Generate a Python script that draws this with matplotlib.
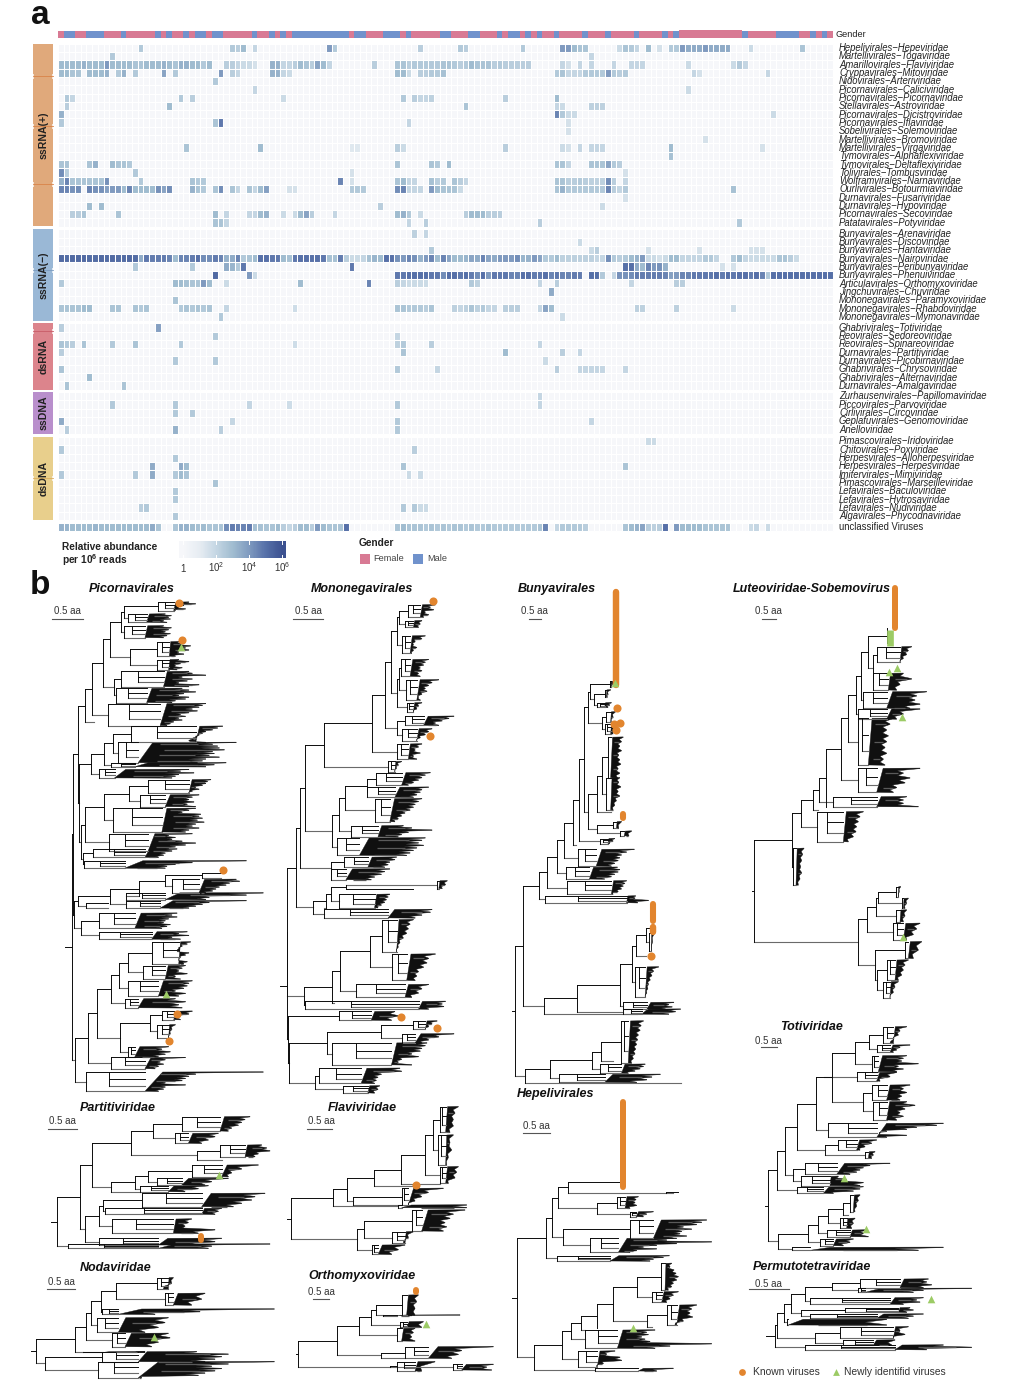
import numpy as np
import matplotlib
matplotlib.use('Agg')
import matplotlib.pyplot as plt
from matplotlib.collections import LineCollection, PolyCollection
from matplotlib.colors import LinearSegmentedColormap, Normalize
from matplotlib.patches import Rectangle

plt.rcParams['font.family'] = ['Liberation Sans', 'DejaVu Sans']
plt.rcParams['mathtext.fontset'] = 'custom'
plt.rcParams['mathtext.rm'] = 'Liberation Sans'
plt.rcParams['mathtext.bf'] = 'Liberation Sans:bold'

N_COLS = 136
gender_runs = [('F',0,1),('M',1,3),('F',3,5),('M',5,8),('F',8,11),('M',11,12),('F',12,17),('M',17,18),('F',18,19),('M',19,20),
 ('F',20,22),('M',22,23),('F',23,24),('M',24,26),('F',26,27),('M',27,29),('F',29,34),('M',34,35),('F',35,37),('M',37,38),
 ('F',38,39),('M',39,40),('F',40,41),('M',41,51),('F',51,52),('M',52,54),('F',54,57),('M',57,60),('F',60,61),('M',61,62),
 ('F',62,67),('M',67,69),('F',69,72),('M',72,74),('F',74,77),('M',77,78),('F',78,79),('M',79,81),('F',81,82),('M',82,83),
 ('F',83,84),('M',84,85),('F',85,87),('M',87,88),('F',88,92),('M',92,93),('F',93,96),('M',96,97),('F',97,101),('M',101,102),
 ('F',102,106),('M',106,107),('F',107,108),('M',108,109),('F',109,120),('M',120,121),('F',121,126),('M',126,130),('F',130,132),
 ('M',132,133),('F',133,134),('M',134,135),('F',135,136)]

ssrna_pos_names = ['Hepelivirales−Hepeviridae','Martellivirales−Togaviridae','Amarillovirales−Flaviviridae','Cryppavirales−Mitoviridae',
 'Nidovirales−Arteriviridae','Picornavirales−Caliciviridae','Picornavirales−Picornaviridae','Stellavirales−Astroviridae',
 'Picornavirales−Dicistroviridae','Picornavirales−Iflaviridae','Sobelivirales−Solemoviridae','Martellivirales−Bromoviridae',
 'Martellivirales−Virgaviridae','Tymovirales−Alphaflexiviridae','Tymovirales−Deltaflexiviridae','Tolivirales−Tombusviridae',
 'Wolframvirales−Narnaviridae','Ourlivirales−Botourmiaviridae','Durnavirales−Fusariviridae','Durnavirales−Hypoviridae',
 'Picornavirales−Secoviridae','Patatavirales−Potyviridae']
ssrna_pos = [
 [(14,[2.5]),(30,[2.5,2.3,3]),(34,[2]),(47,[4,2.5]),(63,[2.3]),(70,[2.5,2.3]),(81,[2.5]),(88,[4,4,3,2.7,2.7]),(98,[1.8,2.7,2.5,2]),(103,[3]),(105,[1.5]),(107,[2.5,2.5,4,3.5,3.5,3.5,4,3.5,3.5,3.5,3.5]),(121,[1.8]),(130,[2.7])],
 [(9,[2.5]),(93,[2])],
 [(0,[3,3,3,3,3.3,3,3,3,4,3,3,3,3,2.7,2.7,3,3,3,3.3,3,2.7,3.3,3.3,3,3,2.5,3]),(29,[2.3,2.3,2,1.8,1.8,1.5]),(37,[3.3,3.3,2,2,2.3,3,2.7,2.3,3.7,3,2]),(55,[2.3]),(59,[2.7,2.7,2.3,2.5,2.5,2.5,2.5,2.5,2.7,2.7,2.5,2.3,2.5,3,2.7,2.7,2.7,2.3,2.5,2.3,2.3,2.3,2.3,2.3]),(88,[2,1.5]),(91,[2]),(93,[2]),(97,[2]),(100,[2,2,2]),(110,[1.8]),(118,[1.8,2.5,2])],
 [(0,[3,3,2.7,2.7]),(5,[3,3,3,3.3]),(10,[2.5,3.3]),(13,[2.5]),(18,[3.7]),(20,[2.5]),(28,[4]),(30,[2.3,2]),(37,[3.3,3.3,2,1.8]),(59,[3,3,1.8]),(63,[2.3,2.3,2.5,2.5,2.8]),(87,[2.5,2.7,2,2,2,2.5,2.5,2.5,2.5,4,2.5,2.3,2.5]),(111,[2,1.5]),(124,[2])],
 [(27,[2.5])],
 [(34,[2]),(110,[1.8])],
 [(1,[2.5,2]),(21,[2.5]),(23,[2.3]),(39,[1.8]),(60,[2.5]),(62,[2.3,2,2,2.2]),(78,[2.3]),(87,[3])],
 [(1,[2.3]),(19,[3]),(71,[2.7]),(87,[2,1.8]),(93,[2.2,2.2,2.2])],
 [(0,[3.3]),(87,[4.5,2.5,1.8,1.8]),(125,[1.8])],
 [(0,[2.5]),(27,[2.7,4.8]),(61,[2]),(89,[1.5])],
 [(89,[1.5])],
 [(113,[1.5])],
 [(22,[2.7]),(35,[3]),(51,[1.2,1.2]),(59,[2.3,1.8]),(78,[2.3]),(88,[1.8,1.5]),(91,[2]),(93,[2,2,2]),(107,[3]),(123,[1.5])],
 [(107,[2.8])],
 [(0,[2.7,2.7]),(5,[2.7,3.3]),(9,[3,2.7,2.7,2.5]),(59,[2.7]),(65,[2.7,2.5]),(68,[3]),(87,[2.7,2.7,2]),(93,[2.7,2.7,2.7,3.7,2.5,2.3])],
 [(0,[4.3,2.3]),(13,[2.5]),(51,[1.5]),(99,[1.5])],
 [(0,[3.3,4.5,2.7,2.7,2.7,2.7,2.7,2.7,4.2]),(14,[2.5]),(23,[2.7,2.5,2.5]),(49,[4.5]),(51,[1.5]),(59,[2.7,3,2,2]),(65,[2.8,2.3,2.5]),(69,[2.7,2.3,2]),(87,[2.7,2.7,2.3,2.3,2.5,2.3,2.2,2.2,2.2,4.3,2.3]),(99,[2])],
 [(0,[4.5,4.5,4.2,4.3]),(5,[4.5,4.2,4.2,3.8,4,4,3,4.5,3,3,3,3,4.2,3.7,4.3]),(23,[3.3,2.7,2.5]),(27,[2.7,4.3]),(30,[2.7,2]),(33,[2.7,2,3,3.8]),(40,[1.5,1.5]),(51,[2.5,2.5,2.5]),(59,[4.3,4.5,2,2,2]),(65,[4,3,2.7,2.7,2.7,1.8]),(87,[2.7,3.3,2.5,2.5,2.5,2.5,2.5,2.5,2.5,4.5,2.3,2,2.5]),(118,[2.8])],
 [(99,[1.5])],
 [(5,[3]),(7,[3]),(56,[2.3]),(95,[1.8])],
 [(2,[2.3,2.3,2.7]),(10,[2.7]),(27,[3]),(29,[2]),(33,[2,2,3,3.3]),(39,[1.8]),(41,[1.8,3,3.7,2.3]),(48,[2]),(59,[3,3.3,2.5]),(63,[1.8]),(71,[2.3,3,3,3,2.3,2.3,2.3])],
 [(27,[2.7,2.7,2]),(61,[2]),(64,[2.3]),(84,[2.3]),(119,[2.5])],
]

ssrna_neg_names = ['Bunyavirales−Arenaviridae','Bunyavirales−Discoviridae','Bunyavirales−Hantaviridae','Bunyavirales−Nairoviridae',
 'Bunyavirales−Peribunyaviridae','Bunyavirales−Phenuiviridae','Articulavirales−Orthomyxoviridae','Jingchuvirales−Chuviridae',
 'Mononegavirales−Paramyxoviridae','Mononegavirales−Rhabdoviridae','Mononegavirales−Mymonaviridae']
ssrna_neg = [
 [(62,[2.2]),(64,[2])],
 [(91,[1.8])],
 [(65,[2.5]),(93,[1.8,2.3]),(103,[1.5]),(112,[1.5]),(121,[1.5,1.5,1.5])],
 [(0,[5.2,5.1,5.2,5.2,5.2,5.1,5.1,5.2,5.1,5.2,5.1,5.1,5.2,5.1,3.5,4.8,4.7,4.7,4.7,4.5,3,4.5,4.5,4.7,5,4.3,4.3,4.7,4.5,3.3,3.5,4.5,2.5,2.7,3,5,5,4.8,4.8,3,2.8,4.8,5,5,5,5,4.8,2.8,2.8,4.7,2.3,1.8,1.8,2,2.8,3.2,3,5,5,4.2,4,4.5,4.2,3.3,4,4.5,3,4.5,3.7,3,3,3.2,3.7,3.5,4.5,3.7,3.5,4,4,4,4.3,3.2,3.3,4,3.7,2.5,2.5,3,2.2,2.2,2.2,2.2,2.2,2.2,2,2,4.3,2.5,2.3,2.5,3,3.3,4,1.8,1.8,1.5,1.8,3,3,2,2,2,2,2.5,2.5,2]),(118,[2.5,3,2,1.8,1.8,1.8,1.8,1.8,2.7,2.7,2.3,1.8])],
 [(13,[2.5]),(23,[2.5]),(29,[3.5,3.2,2.5,4.8]),(51,[4.8]),(99,[5,5,3.5,3,4.5,4,4.2,3.3]),(116,[1.5]),(118,[1.5])],
 [(27,[5.2]),(33,[4,1.8]),(59,[4.8,4.8,5,5,5,5,4.8,4.8,4.3,5,5,4.8,5,4.7,4.3,5,4,4.8,4.8,4.8,4.5,4.5,5,5,4.7,4.8,5,4.5,4.8,4.5,4.5,4.7,4.7]),(93,[5,5,2.5]),(97,[2,4.2,4.2,4.3,4.7,4.7,4.7,4.7,4.7,4.5,3.8,4,4.5,4.5,4.8,4.8,4.8,4.8,5,4.7,5,4.8,5,5,4.7,5,4.5,2.5,5,5,5,5,5,5,5,5,5,5,5])],
 [(0,[2.5]),(20,[3,3,2.8,2.7,2.7,4,3]),(29,[1.8]),(42,[3]),(54,[4.5]),(59,[2.3,2,1.8,1.8,1.8,1.8]),(72,[2.5,2.2]),(84,[2]),(87,[2.3]),(100,[2]),(108,[2.3,2.3])],
 [(86,[3.5])],
 [(20,[2.7])],
 [(0,[2.7,2.7,2.7,2.7,3,3]),(9,[2.7,2.7]),(13,[2.7,2.5,2.7]),(21,[2.5,2.7,2.5,2.7,2.5,2.7]),(29,[2]),(41,[1.7]),(59,[2.7,2.7,2.5,2.5,2.5,2.3,2.7]),(69,[2.2,2,2.2,2.7,2.2,2.5,2,2]),(78,[2.3,2.3,2.3]),(84,[2,3.7,3]),(101,[2.2,2.2]),(108,[2.2]),(118,[1.8])],
 [(28,[2.5]),(88,[1.8])],
]

dsrna_names = ['Ghabrivirales−Totiviridae','Reovirales−Sedoreoviridae','Reovirales−Spinareoviridae','Durnavirales−Partitiviridae',
 'Durnavirales−Picobirnaviridae','Ghabrivirales−Chrysoviridae','Ghabrivirales−Alternaviridae','Durnavirales−Amalgaviridae']
dsrna = [
 [(0,[2.3]),(17,[3.8])],
 [(27,[2.5]),(59,[2])],
 [(0,[2.7,2.5,2.3]),(4,[2.7]),(9,[2.5]),(13,[2.7]),(21,[2.5]),(41,[1.7]),(59,[2.2,2.5]),(65,[2.3]),(84,[2])],
 [(0,[2.3]),(60,[2.7]),(78,[3]),(88,[2.3]),(91,[2])],
 [(20,[2.5]),(27,[2.5]),(85,[1.8])],
 [(0,[2.7]),(59,[2.5]),(66,[2]),(87,[2.3]),(91,[2,2,2,2,2]),(99,[2])],
 [(5,[3])],
 [(1,[2.7]),(11,[2.7])],
]

ssdna_names = ['Zurhausenvirales−Papillomaviridae','Piccovirales−Parvoviridae','Cirlivirales−Circoviridae','Geplafuvirales−Genomoviridae','Anelloviridae']
ssdna = [
 [(84,[2])],
 [(9,[2.5]),(20,[2.5]),(33,[2]),(40,[1.7]),(59,[2.5]),(84,[2])],
 [(20,[2.5]),(23,[2.5])],
 [(0,[3.5]),(30,[2]),(59,[2.5]),(93,[2])],
 [(1,[2.3]),(20,[3.3]),(28,[2.3]),(59,[2.5])],
]

dsdna_names = ['Pimascovirales−Iridoviridae','Chitovirales−Poxviridae','Herpesvirales−Alloherpesviridae','Herpesvirales−Herpesviridae',
 'Imitervirales−Mimiviridae','Pimascovirales−Marseilleviridae','Lefavirales−Baculoviridae','Lefavirales−Hytrosaviridae',
 'Lefavirales−Nudiviridae','Algavirales−Phycodnaviridae']
dsdna = [
 [(103,[1.8,1.8])],
 [(0,[2.5]),(62,[2.3])],
 [(20,[2.5])],
 [(16,[3.5]),(21,[3.5,3]),(60,[2.7]),(99,[2.7])],
 [(0,[2.5]),(13,[2.5]),(16,[3.5]),(20,[2.5,3,2.7]),(61,[1.8]),(63,[1.8])],
 [(27,[2.7])],
 [(20,[2.5])],
 [(20,[2.5])],
 [(14,[2.3,2.5]),(60,[2.5]),(62,[2.5,1.8,1.8])],
 [(20,[2.5])],
]

unclassified_names = ['unclassified Viruses']
unclassified = [
 [(0,[3.3,3.2,3,3,3,3,3.2,3,3,3,3,3,3,3,3,3,3.5,2.7]),(20,[2.7,3.3,3.3,3,2.8,3,2.7,2.7,2.7,4.3,4.7,4.5,4.5,4.7,2.8,2.8,2.7,2.7,3,2.3,2,2.3,3,3,2.3,4,3,2.7,2.7,2.7,5]),(59,[2.7,3,2.7,2.7,2.7,2.5,2.7,2.5,2.7,2.5,2.7,2.7,2.5,2.7,2.5,2.5,2.7,2.5,2.5,2.5,2.5,2.5,2.5,2.5,2.5,2.7]),(85,[4.5]),(87,[2,2.5,2.5,2.5,2.5,2.3]),(99,[2.7,3,3.3,3.7,2.3,2.2,2.3,5]),(108,[4,3,3,3,3,2.7,2.7,2.7,2.7,2.7]),(121,[1.8,2]),(124,[1.8])],
]

cmap_stops = ['#f6f7fa', '#e6ecf2', '#c4d6e3', '#a0bcd0', '#7f9abf', '#5670a8', '#3c5190']
cmap = LinearSegmentedColormap.from_list('abund', cmap_stops)
norm = Normalize(0, 6)

groups = [
 ('ssRNA(+)', '#e0a97b', 44, 226, 43.6, ssrna_pos, ssrna_pos_names, [76,126,184], '#d98348'),
 ('ssRNA(−)', '#9ab8d6', 229, 321, 229.2, ssrna_neg, ssrna_neg_names, [270], '#7c9cc0'),
 ('dsRNA', '#dc848c', 323, 390, 323.2, dsrna, dsrna_names, [331], '#c85c68'),
 ('ssDNA', '#b98fcc', 392, 434, 391.9, ssdna, ssdna_names, [], ''),
 ('dsDNA', '#e8cf8c', 437, 520, 436.9, dsdna, dsdna_names, [478], '#dcae5e'),
 ('', None, 0, 0, 522.9, unclassified, unclassified_names, [], ''),
]

def N(x, *kids): return ('n', x, kids)
def T(x, y): return ('t', x, y)
def C(x, xb, y0, y1, tips): return ('c', x, xb, y0, y1, tips)

picorna = N(125,
 N(126,
  N(141,
   N(163,
    N(183,
     N(215,
      N(238,
       N(270, N(278, C(380,425,95,120,[470,490,455,440,460,430]), C(290,345,130,155,[400,418,410,415,395,405])), C(278,340,165,200,[395,418,410,400,415,405,395])),
       N(295, C(375,412,212,255,[440,450,475,460,470,440,455,430]), C(375,410,265,295,[440,470,445,430,450,435]))),
      N(248, C(270,395,300,345,[470,480,520,450,480,465,440,500,470]), C(255,345,350,392,[450,470,490,455,440,470,460,430,420]))),
     C(232,385,395,460,[520,510,500,480,495,470,445,460,440,450,425,415,405])),
    T(190,450)),
   N(146,
    N(180,
     N(218,
      N(245, C(300,490,462,510,[570,555,540,520,510,500,490,480,470,520]), C(260,320,510,570,[610,540,555,560,575,540,545,530,560,520,510,495])),
      C(240,310,570,582,[580,545,520])),
     C(205,250,590,615,[470,445,485,440,430,420])),
    N(150,
     N(162,
      N(218,
       N(292, C(350,470,620,660,[535,525,520,510,490,500,480,470]), C(325,400,665,700,[500,480,470,485,465,490])),
       C(245,390,705,775,[490,470,450,505,500,510,495,515,490,480,500,470,460])),
      C(235,350,780,830,[480,410,430,420,450,490,460,430,410,395])),
     N(158, C(185,340,825,850,[435,420,400,395,380]), C(160,280,860,882,[640,480,430,405,400]))))),
  N(130,
   N(142,
    N(238, N(322, N(400, N(510, T(571,895), T(565,912)), C(420,500,915,955,[610,620,590,580,560,550,540,520])), C(285,400,955,975,[690,640,530,520])), C(285,385,978,1000,[640,530,510,490,470])),
    N(165, T(230,985), T(230,1000))),
   N(150,
    C(205,310,1015,1060,[435,420,435,410,400,395,415,405,390]),
    C(205,360,1070,1092,[465,440,470,420,445])))),
 N(133,
  N(172,
   N(198,
    N(240,
     N(262,
      N(290, C(362,440,1100,1165,[475,465,450,440,435,470,460,445,440,465,455]), C(335,400,1170,1210,[460,450,440,465,430,445])),
      C(290,380,1215,1260,[480,470,465,455,430,460,440])),
     C(280,320,1268,1295,[430,460,440,450])),
    N(265,
     N(355, C(390,425,1305,1330,[480,470,440,445]), C(375,410,1345,1385,[430,420,415,410])),
     C(290,310,1410,1440,[410,390,415,400,380]))),
   C(240,340,1442,1475,[460,400,385,395,380,370])),
  C(165,340,1485,1542,[690,490,470,460,450,400,460,400,395,380])))

mononega = N(20,
 N(22,
  N(47,
   N(58,
    N(73,
     N(130,
      N(272,
       N(312,
        N(330,
         N(345,
          N(352, C(378,415,88,125,[460,445,455,430,440,425]), C(370,395,135,155,[420,415,410])),
          C(360,385,180,232,[430,420,400,395,405,395,390])),
         N(345,
          N(352, C(358,385,250,300,[440,430,425,415,420,410,415]), C(372,405,310,370,[470,450,440,430,435,420,410,415])),
          C(375,395,378,405,[420,410,405,395]))),
        N(345, C(370,425,418,445,[515,500,480,460,470]), C(360,405,455,490,[450,440,430,415,405]))),
       C(345,380,500,545,[420,410,400,415,395,405])),
      C(320,340,552,582,[360,350,345,340])),
     N(155,
      N(175,
       N(192,
        N(258, C(285,360,585,622,[445,430,420,410,395,380]), C(258,340,628,658,[440,420,415,405,395])),
        C(280,325,662,730,[420,410,400,395,385,370,360,350,340])),
       C(210,290,742,775,[365,390,450,380,360,350])),
      C(170,235,778,830,[430,420,410,425,405,395,385,375]))),
    N(150, C(190,260,835,865,[345,340,325,320,310]), C(150,195,870,902,[325,310,300,280,270]))),
   N(97,
    N(135,
     N(150, N(195,T(395,930),C(465,470,905,928,[495,490,480])), C(175,280,945,985,[325,320,315,310,300,290])),
     T(130,985)),
    C(130,320,990,1015,[450,445,420,400]))),
  N(72,
   N(155,
    N(177,
     N(265, C(302,345,1020,1115,[395,385,380,375,365,355,350,345]), C(332,375,1122,1200,[460,440,435,425,410,405,400])),
     C(225,370,1212,1250,[440,420,410,390])),
    T(160,1268)),
   C(75,410,1262,1285,[490,480,485,440])),
  ),
 N(25,
  C(175,270,1292,1318,[340,350,330]),
  N(28,
   N(140,
    N(300, C(395,430,1320,1345,[465,450,440,430]), C(360,400,1358,1385,[515,470,440,420])),
    C(155,330,1385,1450,[435,430,420,415,390,410,360,350,390])),
   N(105, C(115,240,1460,1505,[355,360,300,290,285,280]), C(185,260,1512,1533,[295,290,280])))))

bunya = N(15,
 N(37,
  N(85,
   N(110,
    N(140,
     N(160,
      N(185,
       N(205,
        N(218,
         N(230,
          N(236, C(295,298,315,332,[310,305,300]), N(250,C(280,285,340,362,[298,290,288]),C(258,280,378,392,[300,295,290]))),
          N(272, C(285,298,405,435,[312,305,300]), C(282,298,440,470,[315,310,305]))),
         N(230,
          N(258,
           N(272, C(290,298,480,600,[335,330,325,330,322,325,328,320,325,318]), C(285,298,600,695,[325,322,328,320,325,315,310,305])),
           T(298,702)),
          N(258, C(305,315,730,750,[330,322]), C(325,338,758,772,[360,352])))),
        C(265,290,780,795,[310,305,295])),
       T(195,800)),
      C(200,255,812,862,[368,345,330,325,320,310,300])),
     C(165,235,865,900,[318,325,320,310,300,280])),
    C(170,300,905,945,[345,340,335,330,320,305])),
   C(105,345,950,970,[372,370,410,378])),
  N(100,
   N(197,
    N(325,
     N(362,
      N(372,
       N(402, T(410,1045), C(410,418,1060,1112,[428,422,418])),
       T(402,1128)),
      C(370,400,1160,1250,[440,425,420,415,410,408,405,400])),
     C(335,405,1265,1285,[485,470,480,460])),
    C(335,390,1285,1300,[505,490,470])),
   T(375,1298))),
 N(45,
  N(118,
   N(243,
    N(268, C(330,350,1320,1445,[395,388,385,380,378,375,372,370,365,360]), T(305,1440)),
    C(265,330,1448,1475,[400,395,385,370,350])),
   C(145,280,1478,1502,[445,420,405,375])),
  T(505,1505)))

hepeli = N(22,
 N(108,
  N(125,
   N(145,
    N(173, T(335,502), N(467,T(505,530),T(490,535))),
    N(262, C(320,345,545,580,[385,378,375,380,360]), C(360,378,590,605,[430,410,400]))),
   N(160, C(360,430,615,670,[590,575,560,520,545,515,510,530,490]), C(240,325,670,712,[500,470,605,500,440,400,440,380,360]))),
  C(140,300,722,738,[478,460,430,420])),
 N(73,
  N(155,
   N(182,
    N(212,
     N(260,
      N(310,
       N(382, C(452,465,745,825,[485,480,492,498,505,500,490,485,475]), C(425,455,830,862,[505,490,480,470])),
       N(410, C(472,500,870,930,[560,545,540,548,520,495]), T(425,936))),
      T(260,940)),
     T(225,945)),
    C(225,322,945,1000,[435,410,415,395,405,420,605,480,435])),
   C(205,262,1008,1055,[315,290,330,335,280,260])),
  C(255,385,1060,1068,[490,440])))

toti = N(775,
 N(800,
  N(825,
   N(860,
    N(917,
     N(942,
      N(967,
       N(1035,
        N(1078, C(1120,1150,35,85,[1190,1170,1165,1150,1140]), C(1100,1140,90,112,[1200,1170,1160,1150])),
        C(1085,1105,122,170,[1190,1180,1175,1225,1165,1180,1160])),
       N(1060, C(1085,1130,210,255,[1200,1180,1190,1175,1170]), C(1090,1130,260,315,[1190,1215,1185,1170,1180,1160]))),
      C(1040,1100,172,198,[1160,1140,1110])),
     C(955,1100,325,367,[1300,1280,1220,1190,1130,1110,1190,1130])),
    N(945, C(985,1040,375,405,[1100,1085,1065,1050]), C(1065,1075,410,430,[1095,1090,1085]))),
   N(848, C(885,980,445,478,[1140,1080,1060,1050,1040,1020]), C(872,960,484,512,[985,1010,1060,1050]))),
  C(860,940,515,535,[1060,1050,1030,970])),
 N(805,
  N(895,
   N(925,
    N(955,
     N(1000, C(1020,1030,540,590,[1050,1045,1040,1035]), T(1015,600)),
     C(990,1010,610,640,[1035,1030,1025])),
    C(950,1020,645,665,[1070,1060,1075])),
   C(930,970,672,692,[1030,1020,1000])),
  C(845,900,697,706,[1300,1225])))

permuto = N(795,
 N(800,
  N(822,
   N(842,
    N(885,
     N(965, C(1050,1170,792,818,[1255,1250,1265,1240]), C(1045,1065,820,832,[1385,1240,1210])),
     C(900,1140,848,868,[1240,1220,1230,1180])),
    N(872, C(1005,1165,878,892,[1200,1210,1190]), C(900,1100,897,910,[1240,1210,1195]))),
   C(832,835,913,930,[1130,1130])),
  N(915, C(990,1150,935,970,[1195,1170,1185,1150]), C(1000,1090,975,990,[1155,1145]))),
 C(885,1155,990,1004,[1300,1385,1250]))

partiti = N(95,
 N(165,
  N(200,
   N(318,
    N(383, C(470,585,65,108,[675,660,650,640,620,610]), C(450,490,115,145,[580,570,550,530])),
    N(515, C(585,660,150,185,[710,725,735,700,690]), T(590,195))),
   N(258, N(330, N(370, C(500,590,210,245,[700,650,620,610]), C(395,470,250,270,[610,560,540])), C(345,430,272,290,[550,520,480])), T(345,292))),
  N(180,
   N(222,
    N(235, C(350,530,295,335,[720,690,680,650,625]), C(240,530,340,358,[590,580,570])),
    C(260,445,372,415,[500,490,480,570,520])),
   C(222,400,430,450,[590,570,520]))),
 C(130,400,447,460,[735,560,550]))

flavi = N(798,
 N(925,
  N(965,
   N(1048,
    N(1127,
     N(1200,
      N(1225, C(1245,1262,35,112,[1300,1290,1285,1285,1275]), C(1240,1262,120,210,[1285,1275,1280,1270,1265])),
      C(1245,1262,215,265,[1300,1295,1290,1270])),
     T(1245,268)),
    T(1170,272)),
   N(985, C(1130,1150,280,330,[1255,1210,1190,1170,1150]), T(1130,330))),
  C(1120,1130,330,338,[1325,1325])),
 N(995,
  N(1018, C(1160,1190,345,408,[1320,1285,1275,1260,1265,1255]), C(1100,1140,410,445,[1165,1150,1135])),
  C(1040,1060,450,478,[1140,1120,1100])))

noda = N(32,
 N(150,
  N(182,
   N(197,
    N(228,
     N(272, C(395,430,548,582,[445,440,415]), C(420,445,595,630,[540,530,500])),
     C(232,280,642,658,[748,525,390])),
    C(215,280,668,712,[430,420,400,360])),
   C(260,300,715,755,[430,435,400,380])),
  C(175,235,770,772,[360,360])),
 N(60,
  C(230,340,770,800,[515,610,590,570,540]),
  C(220,340,800,848,[748,610,560,590,570,540,520,350])))

orthomyxo = N(820,
 N(937,
  N(1003,
   N(1038,
    N(1052, C(1130,1145,600,660,[1180,1175,1170,1170]), C(1075,1115,660,662,[1305,1160])),
    C(1125,1145,680,697,[1195,1190])),
   C(1115,1130,700,738,[1170,1165,1160,1170])),
  N(1067, C(1140,1210,755,790,[1405,1310,1300,1280]), T(1140,790))),
 N(1095, C(1115,1170,800,828,[1230,1190]), C(1285,1310,808,825,[1405,1385,1400])))

luteo = N(73,
 N(186,
  N(212,
   N(250,
    N(268,
     N(288,
      N(332,
       N(355,
        N(378,
         N(392,
          N(415,
           N(470, T(472,158), T(472,205)),
           N(430, C(440,510,215,262,[545,535,530,520,510]), C(428,475,295,345,[520,545,510,500]))),
          C(400,470,350,400,[590,560,555,570,540])),
         C(385,470,402,432,[570,520,500])),
        C(385,415,430,570,[490,480,470,475,470,465,470,460,465])),
       C(385,440,580,652,[570,520,540,525,500,490])),
      T(288,695)),
     C(310,440,665,695,[530,520,520,565])),
    T(265,705)),
   C(260,340,710,800,[400,390,385,380,378,370,355])),
  C(190,198,820,930,[222,218,215,212,215,210,205])),
 N(385,
  N(412,
   N(438,
    N(445, C(497,505,935,965,[512,508,505]), C(515,520,970,1000,[535,530,525])),
    C(497,510,1005,1040,[530,525,520])),
   C(490,520,1045,1095,[570,560,550,530])),
  N(435,
   C(525,535,1100,1150,[575,565,550]),
   N(440, C(470,495,1155,1215,[535,525,520,515,505]), C(460,480,1220,1268,[505,495,490,480])))))

# tree, crop left, crop top, crop scale, stem start, circles, triangles, thick bars (x, y0, y1, width in crop units)
trees = [
 (picorna, 30, 570, 2.958, 105, [(441,98),(451,208),(571,887),(434,1312),(411,1392)], [(446,228),(401,1255)], []),
 (mononega, 280, 575, 2.96, 0, [(452,78),(443,477),(358,1308),(466,1341)], [], []),
 (bunya, 510, 575, 2.96, 5, [(317,394),(308,441),(325,438),(315,460),(417,1128)], [(310,320)], [(313,50,325,19),(334,708,720,18),(422,975,1025,18),(423,1042,1058,19)]),
 (hepeli, 510, 1015, 3, 5, [], [(368,938)], [(338,260,515,18)]),
 (toti, 510, 1015, 3, 765, [], [(1001,488),(1068,642)], []),
 (permuto, 510, 1015, 3, 768, [], [(1262,853)], []),
 (partiti, 25, 1095, 3, 78, [], [(581,240)], [(527,422,434,18)]),
 (flavi, 25, 1095, 3, 785, [(1174,269)], [], []),
 (noda, 25, 1095, 3, 18, [], [(388,727)], []),
 (orthomyxo, 25, 1095, 3, 812, [], [(1204,688)], [(1174,584,590,18)]),
 (luteo, 730, 575, 3, 65, [], [(501,278),(476,292),(517,425),(518,1085)], [(494,38,160,18)]),
]
green_bars = [(730, 575, 3, 481, 165, 212, 20)]

tree_titles = [('Picornavirales',132,589),('Mononegavirales',362,589),('Bunyavirales',557,589),('Luteoviridae-Sobemovirus',812,589),
 ('Totiviridae',812,1027),('Hepelivirales',556,1094),('Partitiviridae',118,1108),('Flaviviridae',362,1108),('Nodaviridae',116,1268),
 ('Orthomyxoviridae',362,1276),('Permutotetraviridae',812,1267)]
scale_bars = [(67,611,52,83,619),(308,611,293,323,619),(534,611,529,541,619),(768,611,762,776,619),(768,1041,761,777,1047),
 (536,1126,523,550,1133),(62,1121,48,77,1129),(321,1121,307,332,1129),(61,1282,47,75,1289),(321,1292,313,329,1299),(768,1284,749,789,1289)]

colorbar_ticks = [(0, '1'), (2, r'$\mathregular{10^{2}}$'), (4, r'$\mathregular{10^{4}}$'), (6, r'$\mathregular{10^{6}}$')]

# ---------- figure ----------
DPI = 100
fig = plt.figure(figsize=(10.24, 13.83), dpi=DPI, facecolor='white')
ax = fig.add_axes([0, 0, 1, 1])
ax.set_xlim(0, 1024); ax.set_ylim(1383, 0); ax.axis('off')
PX = 72 / DPI

X0, PITCHX, PITCHY = 58.0, 775.0 / N_COLS, 8.32
col_edges = X0 + PITCHX * np.arange(N_COLS + 1)

GENDER = {'F': '#d87a94', 'M': '#7092cc'}
for g, a, b in gender_runs:
    top = 30 if (a, b) == (109, 120) else 31
    ax.add_patch(Rectangle((col_edges[a], top), col_edges[b] - col_edges[a], 38 - top, fc=GENDER[g], ec='none'))
ax.text(835, 37, 'Gender', fontsize=6.6, va='baseline', color='#222')

for label, color, sy0, sy1, top, rows, names, notches, ncolor in groups:
    M = np.zeros((len(rows), N_COLS))
    for r, row in enumerate(rows):
        for start, vals in row:
            M[r, start:start + len(vals)] = vals
    y_edges = top + PITCHY * np.arange(len(rows) + 1)
    ax.pcolormesh(col_edges, y_edges, M, cmap=cmap, norm=norm, edgecolors='white', linewidth=0.75, antialiased=True)
    for r, nm in enumerate(names):
        ax.text(839, top + PITCHY * (r + 0.5) + 3.3, nm, fontsize=6.85, va='baseline', ha='left', color='#222',
                style='normal' if nm.startswith('unclassified') else 'italic')
    if color:
        ax.add_patch(Rectangle((33, sy0), 20, sy1 - sy0, fc=color, ec='none'))
        ax.text(43.5, (sy0 + sy1) / 2, label, rotation=90, fontsize=7.6, fontweight='bold', ha='center', va='center', color='#222')
        for ny in notches:
            ax.plot([33, 53], [ny, ny], color=ncolor, lw=0.6)
            ax.add_patch(Rectangle((33, ny - 2.5), 1, 5, fc='white', ec='none', alpha=0.7))
            ax.add_patch(Rectangle((52, ny - 2.5), 1, 5, fc='white', ec='none', alpha=0.7))

ax.text(31, 16, 'a', fontsize=24, fontweight='bold', va='center', ha='left', color='#111')
ax.text(30, 585, 'b', fontsize=24, fontweight='bold', va='center', ha='left', color='#111')

# colour key
key_vals = np.linspace(-0.25, 6.2, 200)[None, :]
key_edges = np.linspace(179, 286, 201)
ax.pcolormesh(key_edges, [540.7, 557.7], key_vals, cmap=cmap, norm=norm)
for v, lab in colorbar_ticks:
    xk = 183 + v * 16.5
    ax.plot([xk, xk], [540.7, 544], color='white', lw=0.7)
    ax.plot([xk, xk], [554.5, 557.7], color='white', lw=0.7)
    ax.text(xk, 571.5, lab, fontsize=7, ha='center', va='baseline', color='#333')
ax.text(62, 547, 'Relative abundance', fontsize=7.3, fontweight='bold', va='center', color='#222')
ax.text(62, 560, r'per 10$^{\mathbf{6}}$ reads', fontsize=7.3, fontweight='bold', va='center', color='#222')
ax.text(359, 543.5, 'Gender', fontsize=7.3, fontweight='bold', va='center', color='#222')
ax.add_patch(Rectangle((359.5, 554), 10, 10, fc=GENDER['F'], ec='none'))
ax.text(373, 558.5, 'Female', fontsize=6.6, va='center', color='#444')
ax.add_patch(Rectangle((413, 554), 10, 10, fc=GENDER['M'], ec='none'))
ax.text(427, 558.5, 'Male', fontsize=6.6, va='center', color='#444')

# trees
BLACK, GREY = '#0c0c0c', '#6a6a6a'

def node_y(n):
    if n[0] == 'n':
        return (node_y(n[2][0]) + node_y(n[2][-1])) / 2
    if n[0] == 't':
        return n[2]
    return (n[3] + n[4]) / 2

def draw_tree(root, ox, oy, s, stem_x):
    black, grey, wedges, grey_lines = [], [], [], []
    def px(x, y):
        return (ox + x / s, oy + y / s)
    def walk(n, parent_x, color):
        y = node_y(n)
        (color if color is not None else black).append([px(parent_x, y), px(n[1], y)])
        if n[0] == 'n':
            kids = n[2]
            black.append([px(n[1], node_y(kids[0])), px(n[1], node_y(kids[-1]))])
            for i, k in enumerate(kids):
                walk(k, n[1], black if i == 0 else grey)
        elif n[0] == 'c':
            x, xb, y0, y1, tips = n[1:]
            k = len(tips)
            ys = np.linspace(y0, y1, k)
            gap = (y1 - y0) / max(k - 1, 1)
            # white ladder boxes left of the dense wedge
            black.append([px(x, y0), px(x, y1)])
            black.append([px(x, y0), px(xb, y0)])
            grey.append([px(x, y1), px(xb, y1)])
            if xb - x > 15 and y1 - y0 > 10:
                xm = x + (xb - x) * 0.4
                ya, yb = y0 + (y1 - y0) * 0.35, y0 + (y1 - y0) * 0.7
                black.append([px(xm, y0), px(xm, yb)])
                grey.append([px(xm, yb), px(xb, yb)])
                black.append([px(xm, ya), px(xb, ya)])
            # jagged dense wedge: spike per tip, notch between tips
            slant = (tips[0] - xb) * 0.15
            pts = [px(xb + slant, y0)]
            for i, (yy, tp) in enumerate(zip(ys, tips)):
                pts.append(px(tp, yy - 0.8 * s / 3))
                pts.append(px(tp, yy + 0.8 * s / 3))
                if i < k - 1:
                    pts.append(px(xb + (min(tp, tips[i + 1]) - xb) * 0.78, yy + gap / 2))
            pts.append(px(xb, y1))
            wedges.append(pts)
            for i, (yy, tp) in enumerate(zip(ys, tips)):
                if i % 3 == 1:
                    grey_lines.append([px(xb + (tp - xb) * 0.3, yy), px(xb + (tp - xb) * 0.8, yy)])
    walk(root, root[1], None)
    ry = node_y(root)
    black.append([px(stem_x, ry), px(root[1], ry)])
    ax.add_collection(LineCollection(grey, colors=GREY, linewidths=0.8, capstyle='projecting'))
    ax.add_collection(LineCollection(black, colors=BLACK, linewidths=0.7, capstyle='projecting'))
    ax.add_collection(PolyCollection(wedges, facecolors='#101010', edgecolors='#101010', linewidths=0.3))
    ax.add_collection(LineCollection(grey_lines, colors='#5a5a5a', linewidths=0.9))

ORANGE, GREEN = '#e2852e', '#9ccb65'
for root, ox, oy, s, stem, circles, tris, thick in trees:
    draw_tree(root, ox, oy, s, stem)
    for x, y0, y1, w in thick:
        ax.plot([ox + x / s] * 2, [oy + y0 / s, oy + y1 / s], color=ORANGE, lw=w / s * PX, solid_capstyle='round', zorder=4)
    if circles:
        ax.scatter([ox + c[0] / s for c in circles], [oy + c[1] / s for c in circles], s=34, color=ORANGE, zorder=5, lw=0)
    if tris:
        ax.scatter([ox + c[0] / s for c in tris], [oy + c[1] / s for c in tris], s=30, marker='^', color=GREEN, zorder=6, lw=0)
for ox, oy, s, x, y0, y1, w in green_bars:
    ax.plot([ox + x / s] * 2, [oy + y0 / s, oy + y1 / s], color=GREEN, lw=w / s * PX, solid_capstyle='butt', zorder=5)

for t, x, y in tree_titles:
    ax.text(x, y, t, fontsize=9, fontweight='bold', style='italic', ha='center', va='center', color='#111')
for tx, ty, x0, x1, y in scale_bars:
    ax.text(tx, ty, '0.5 aa', fontsize=7, ha='center', va='center', color='#333')
    ax.plot([x0, x1], [y, y], color='#555', lw=0.8)

ax.scatter([742], [1372], s=24, color=ORANGE, lw=0)
ax.text(753, 1372, 'Known viruses', fontsize=7.4, va='center', color='#333')
ax.scatter([836], [1372], s=24, marker='^', color=GREEN, lw=0)
ax.text(844, 1372, 'Newly identifid viruses', fontsize=7.4, va='center', color='#333')

fig.savefig('out.png', dpi=DPI, facecolor='white')
